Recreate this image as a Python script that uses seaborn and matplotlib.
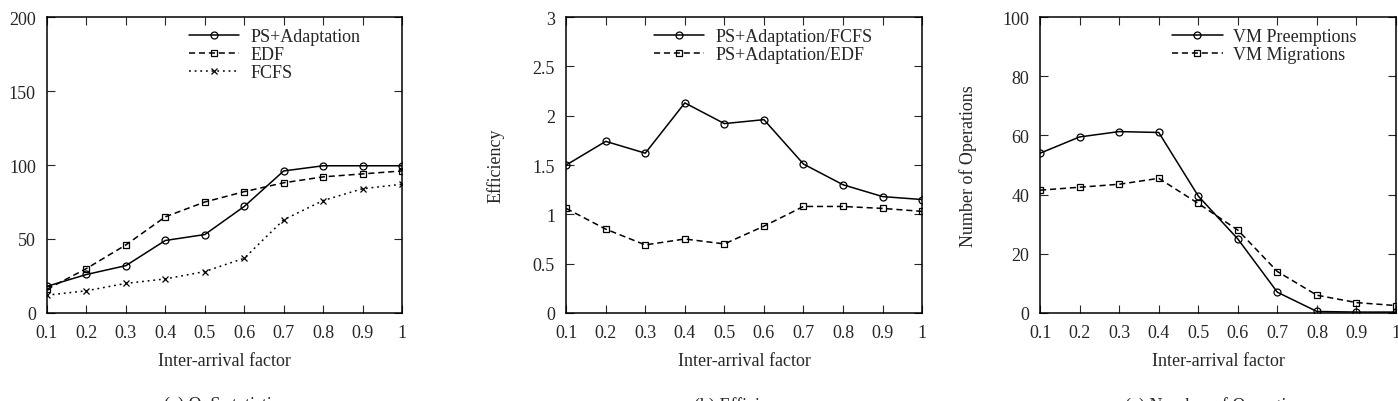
import numpy as np
import pandas as pd
import matplotlib
matplotlib.use("Agg")
import matplotlib.pyplot as plt
import seaborn as sns

# data
factor = [0.1, 0.2, 0.3, 0.4, 0.5, 0.6, 0.7, 0.8, 0.9, 1.0]

qos_ps = [18, 26, 32, 49, 53, 72, 96, 99.5, 99.5, 99.5]
qos_edf = [16, 30, 46, 65, 75, 82, 88, 92, 94, 96]
qos_fcfs = [12, 15, 20, 23, 28, 37, 63, 76, 84, 87]

eff_fcfs = [1.50, 1.74, 1.62, 2.13, 1.92, 1.96, 1.51, 1.30, 1.18, 1.15]
eff_edf = [1.06, 0.85, 0.69, 0.75, 0.70, 0.88, 1.08, 1.08, 1.06, 1.03]

ops_preempt = [54, 59.5, 61.3, 61, 39.5, 25, 7, 0.5, 0.3, 0.3]
ops_migrate = [41.5, 42.5, 43.5, 45.5, 37, 28, 14, 6, 3.5, 2.5]

sns.set_style("ticks")
plt.rcParams["font.family"] = ["Liberation Serif", "DejaVu Serif"]
FS = 13

fig = plt.figure(figsize=(13.98, 4.02), dpi=100)
ax_a = fig.add_axes([0.0336, 0.219, 0.254, 0.736])
ax_b = fig.add_axes([0.405, 0.219, 0.2546, 0.736])
ax_c = fig.add_axes([0.744, 0.219, 0.2546, 0.736])

styles = {
    "circle": dict(marker="o", linestyle="-"),
    "square": dict(marker="s", linestyle=(0, (4, 2.5))),
    "cross": dict(marker="x", linestyle=(0, (1.2, 2.5))),
}


def draw(ax, y, label, kind):
    sns.lineplot(x=factor, y=y, ax=ax, color="black", label=label,
                 linewidth=1.1, markersize=5, markerfacecolor="none",
                 markeredgecolor="black", markeredgewidth=0.9, **styles[kind])


draw(ax_a, qos_ps, "PS+Adaptation", "circle")
draw(ax_a, qos_edf, "EDF", "square")
draw(ax_a, qos_fcfs, "FCFS", "cross")
ax_a.set_ylim(0, 200)
ax_a.set_yticks([0, 50, 100, 150, 200])

draw(ax_b, eff_fcfs, "PS+Adaptation/FCFS", "circle")
draw(ax_b, eff_edf, "PS+Adaptation/EDF", "square")
ax_b.set_ylim(0, 3)
ax_b.set_yticks([0, 0.5, 1, 1.5, 2, 2.5, 3])
ax_b.set_yticklabels(["0", "0.5", "1", "1.5", "2", "2.5", "3"])
ax_b.set_ylabel("Efficiency", fontsize=FS)

draw(ax_c, ops_preempt, "VM Preemptions", "circle")
draw(ax_c, ops_migrate, "VM Migrations", "square")
ax_c.set_ylim(0, 100)
ax_c.set_yticks([0, 20, 40, 60, 80, 100])
ax_c.set_ylabel("Number of Operations", fontsize=FS)

legend_right = {ax_a: 0.882, ax_b: 0.86, ax_c: 0.89}
xt_labels = ["0.1", "0.2", "0.3", "0.4", "0.5", "0.6", "0.7", "0.8", "0.9", "1"]
for ax in (ax_a, ax_b, ax_c):
    ax.set_xlim(0.1, 1.0)
    ax.set_xticks(factor)
    ax.set_xticklabels(xt_labels)
    ax.set_xlabel("Inter-arrival factor", fontsize=FS, labelpad=8)
    ax.tick_params(direction="in", top=True, right=True, length=6,
                   width=0.8, pad=8, labelsize=FS)
    for sp in ax.spines.values():
        sp.set_visible(True)
        sp.set_linewidth(1.1)
        sp.set_color("black")
    ax.legend(loc="upper right", frameon=False, handlelength=2.8,
              handletextpad=0.6, borderaxespad=0, borderpad=0,
              labelspacing=0.05, fontsize=FS,
              bbox_to_anchor=(legend_right[ax], 0.963))

ax_b.yaxis.labelpad = 20
ax_c.yaxis.labelpad = 18

# subfigure captions, cut by the bottom edge as in the reference
fig.text(0.161, 0.012, "(a) QoS statistics", ha="center", va="top", fontsize=FS)
fig.text(0.532, 0.012, "(b) Efficiency", ha="center", va="top", fontsize=FS)
fig.text(0.871, 0.012, "(c) Number of Operations", ha="center", va="top", fontsize=FS)

fig.savefig("out.png", dpi=100)
